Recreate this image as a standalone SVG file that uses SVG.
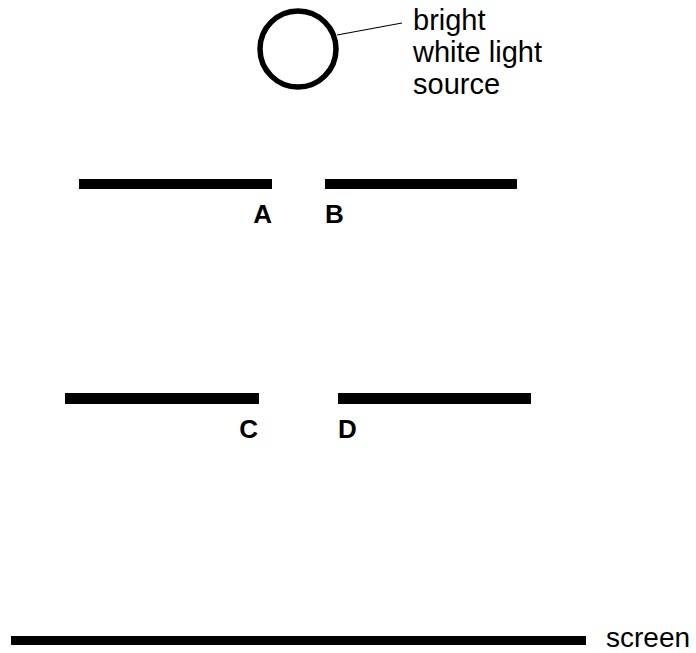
<svg xmlns="http://www.w3.org/2000/svg" width="696" height="653" viewBox="0 0 696 653">
<style>
.bar{fill:#000}
.lbl{font-family:"Liberation Sans",Arial,sans-serif;font-weight:bold;font-size:26px;fill:#000}
.txt{font-family:"Liberation Sans",Arial,sans-serif;font-size:29px;fill:#000}
</style>
<rect width="696" height="653" fill="#fff"/>
<g id="light-source">
<circle cx="298" cy="49" r="38" fill="none" stroke="#000" stroke-width="5.5"/>
<text class="txt" x="413" y="29.5">bright</text>
<text class="txt" x="413" y="62">white light</text>
<text class="txt" x="413" y="94">source</text>
</g>
<g id="barrier-A"><rect class="bar" x="79" y="179" width="193" height="10"/><text class="lbl" x="272" y="223" text-anchor="end">A</text></g>
<g id="barrier-B"><rect class="bar" x="325" y="179" width="192" height="10"/><text class="lbl" x="325" y="223">B</text></g>
<g id="barrier-C"><rect class="bar" x="65" y="393" width="194" height="11"/><text class="lbl" x="258" y="438" text-anchor="end">C</text></g>
<g id="barrier-D"><rect class="bar" x="338" y="393" width="193" height="11"/><text class="lbl" x="338" y="438">D</text></g>
<g id="screen"><rect class="bar" x="11" y="636" width="575" height="9"/><text class="txt" x="606" y="647" style="font-size:28px">screen</text></g>
<g id="connectors"><line x1="337" y1="35" x2="402" y2="23" stroke="#000" stroke-width="1.2"/></g>
</svg>
